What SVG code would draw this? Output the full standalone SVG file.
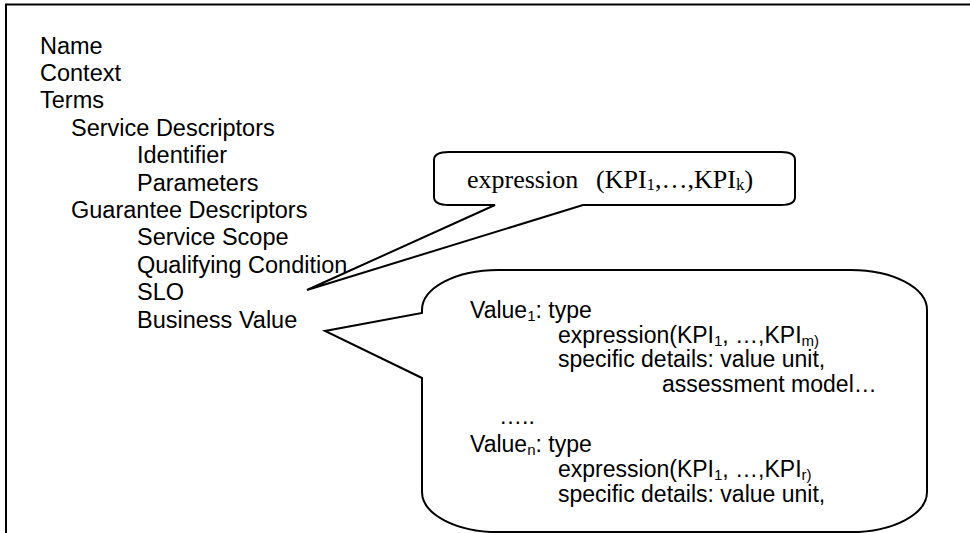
<svg xmlns="http://www.w3.org/2000/svg" width="970" height="533" viewBox="0 0 970 533">
  <style>
    .line { fill: none; stroke: #000; stroke-width: 2; stroke-linejoin: miter; }
    .bubble { fill: #fff; stroke: #000; stroke-width: 2; stroke-linejoin: miter; }
    .outline { font-family: "Liberation Sans", Arial, sans-serif; font-size: 23.5px; fill: #000; }
    .body { font-family: "Liberation Sans", Arial, sans-serif; font-size: 23px; fill: #000; }
    .serif { font-family: "Liberation Serif", "Times New Roman", serif; font-size: 26px; fill: #000; }
  </style>
  <rect width="970" height="533" fill="#fff"/>

  <!-- page frame: only the top and left edges fall inside the view -->
  <g id="frame">
    <path class="line" d="M6,533 V4.5 H970"/>
  </g>

  <!-- agreement outline -->
  <g id="sla-outline" class="outline">
    <text x="40" y="53.5">Name</text>
    <text x="40" y="80.9">Context</text>
    <text x="40" y="108.3">Terms</text>
    <text x="71" y="135.7">Service Descriptors</text>
    <text x="137" y="163.1">Identifier</text>
    <text x="137" y="190.5">Parameters</text>
    <text x="71" y="217.9">Guarantee Descriptors</text>
    <text x="137" y="245.3">Service Scope</text>
    <text x="137" y="272.7">Qualifying Condition</text>
    <text x="137" y="300.1">SLO</text>
    <text x="137" y="327.5">Business Value</text>
  </g>

  <!-- SLO callout -->
  <g id="slo-callout">
    <path class="bubble" d="M449,152 H781 Q795,152 795,160 V197 Q795,205 781,205 H583 L307,290 L495,205 H449 Q434,205 434,197 V160 Q434,152 449,152 Z"/>
    <text class="serif" y="188"><tspan x="467">expression</tspan><tspan x="596">(KPI</tspan><tspan font-size="17" dy="2">1</tspan><tspan dy="-2">,…,KPI</tspan><tspan font-size="17" dy="2">k</tspan><tspan dy="-2">)</tspan></text>
  </g>

  <!-- business value callout -->
  <g id="business-value-callout">
    <path class="bubble" d="M498,270 H851 A76,40 0 0 1 927,310 V492 A76,40 0 0 1 851,532 H498 A76,40 0 0 1 422,492 V378 L325,331 L422,313 V310 A76,40 0 0 1 498,270 Z"/>
    <g class="body">
      <text x="470" y="318">Value<tspan font-size="15" dy="3">1</tspan><tspan dy="-3">: type</tspan></text>
      <text x="558" y="343">expression(KPI<tspan font-size="15" dy="3">1</tspan><tspan dy="-3">, …,KPI</tspan><tspan font-size="15" dy="3">m)</tspan></text>
      <text x="558" y="367">specific details: value unit,</text>
      <text x="662" y="392">assessment model…</text>
      <text x="499" y="424">…..</text>
      <text x="470" y="452">Value<tspan font-size="15" dy="3">n</tspan><tspan dy="-3">: type</tspan></text>
      <text x="558" y="477">expression(KPI<tspan font-size="15" dy="3">1</tspan><tspan dy="-3">, …,KPI</tspan><tspan font-size="15" dy="3">r)</tspan></text>
      <text x="558" y="502">specific details: value unit,</text>
    </g>
  </g>
</svg>
